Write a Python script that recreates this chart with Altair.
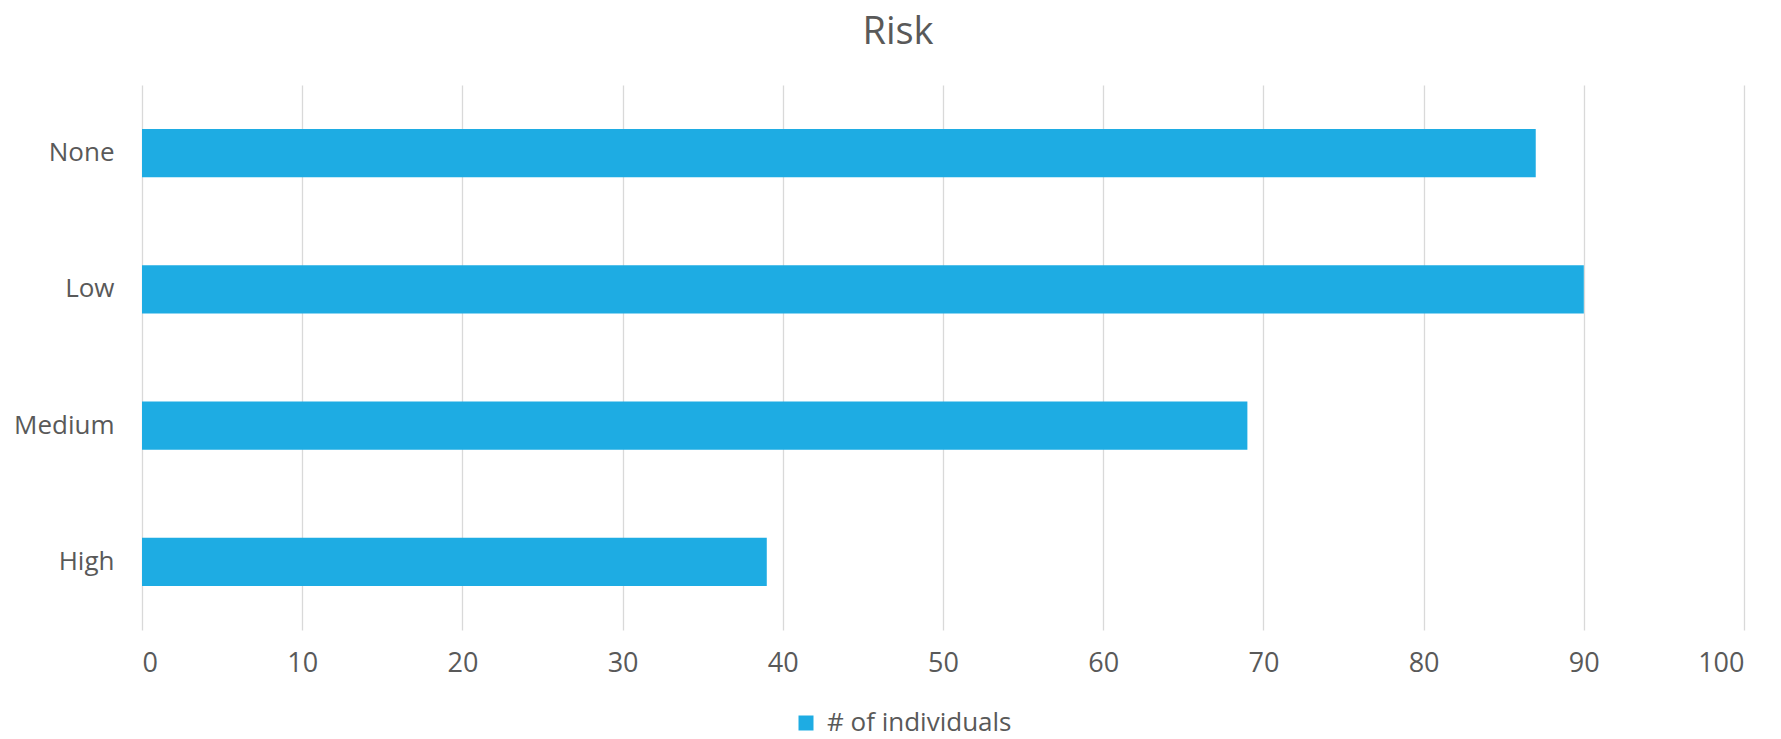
import altair as alt
import pandas as pd

categories = ["None", "Low\u00a0", "Medium", "High"]
values = [87, 90, 69, 39]
series_name = "# of individuals"
x_ticks = [0, 10, 20, 30, 40, 50, 60, 70, 80, 90, 100]

df = pd.DataFrame({"risk": categories, "count": values, "series": [series_name] * len(categories)})

FONT = "Open Sans"
TXT = "#595959"
BLUE = "#1EACE3"

chart = (
    alt.Chart(df)
    .mark_bar()
    .encode(
        y=alt.Y(
            "risk:N",
            sort=categories,
            scale=alt.Scale(paddingInner=0.645, paddingOuter=0.3225),
            axis=alt.Axis(
                title=None, domain=False, ticks=False, grid=False,
                labelFont=FONT, labelFontSize=26, labelColor=TXT, labelPadding=28,
            ),
        ),
        x=alt.X(
            "count:Q",
            scale=alt.Scale(domain=[0, 100], nice=False),
            axis=alt.Axis(
                title=None, domain=False, ticks=False, values=x_ticks,
                grid=True, gridColor="#D9D9D9", gridWidth=1.3,
                labelFont=FONT, labelFontSize=27, labelColor=TXT, labelPadding=20,
            ),
        ),
        color=alt.Color(
            "series:N",
            scale=alt.Scale(range=[BLUE]),
            legend=alt.Legend(
                title=None, orient="none", legendX=651, legendY=625,
                symbolType="square", symbolSize=225, symbolStrokeWidth=0,
                labelFont=FONT, labelFontSize=26, labelColor=TXT, labelOffset=8,
                labelLimit=0, padding=0,
            ),
        ),
    )
    .properties(
        width=1602,
        height=545,
        autosize=alt.AutoSizeParams(type="none"),
        padding={"left": 134, "top": 77, "right": 29, "bottom": 108},
        title=alt.TitleParams(
            "Risk", font=FONT, fontSize=38, fontWeight="normal", color=TXT,
            anchor="middle", offset=33, dx=-45,
        ),
    )
    .configure_view(stroke=None)
)

chart.save("out.html", embed_options={"renderer": "svg", "actions": False})
